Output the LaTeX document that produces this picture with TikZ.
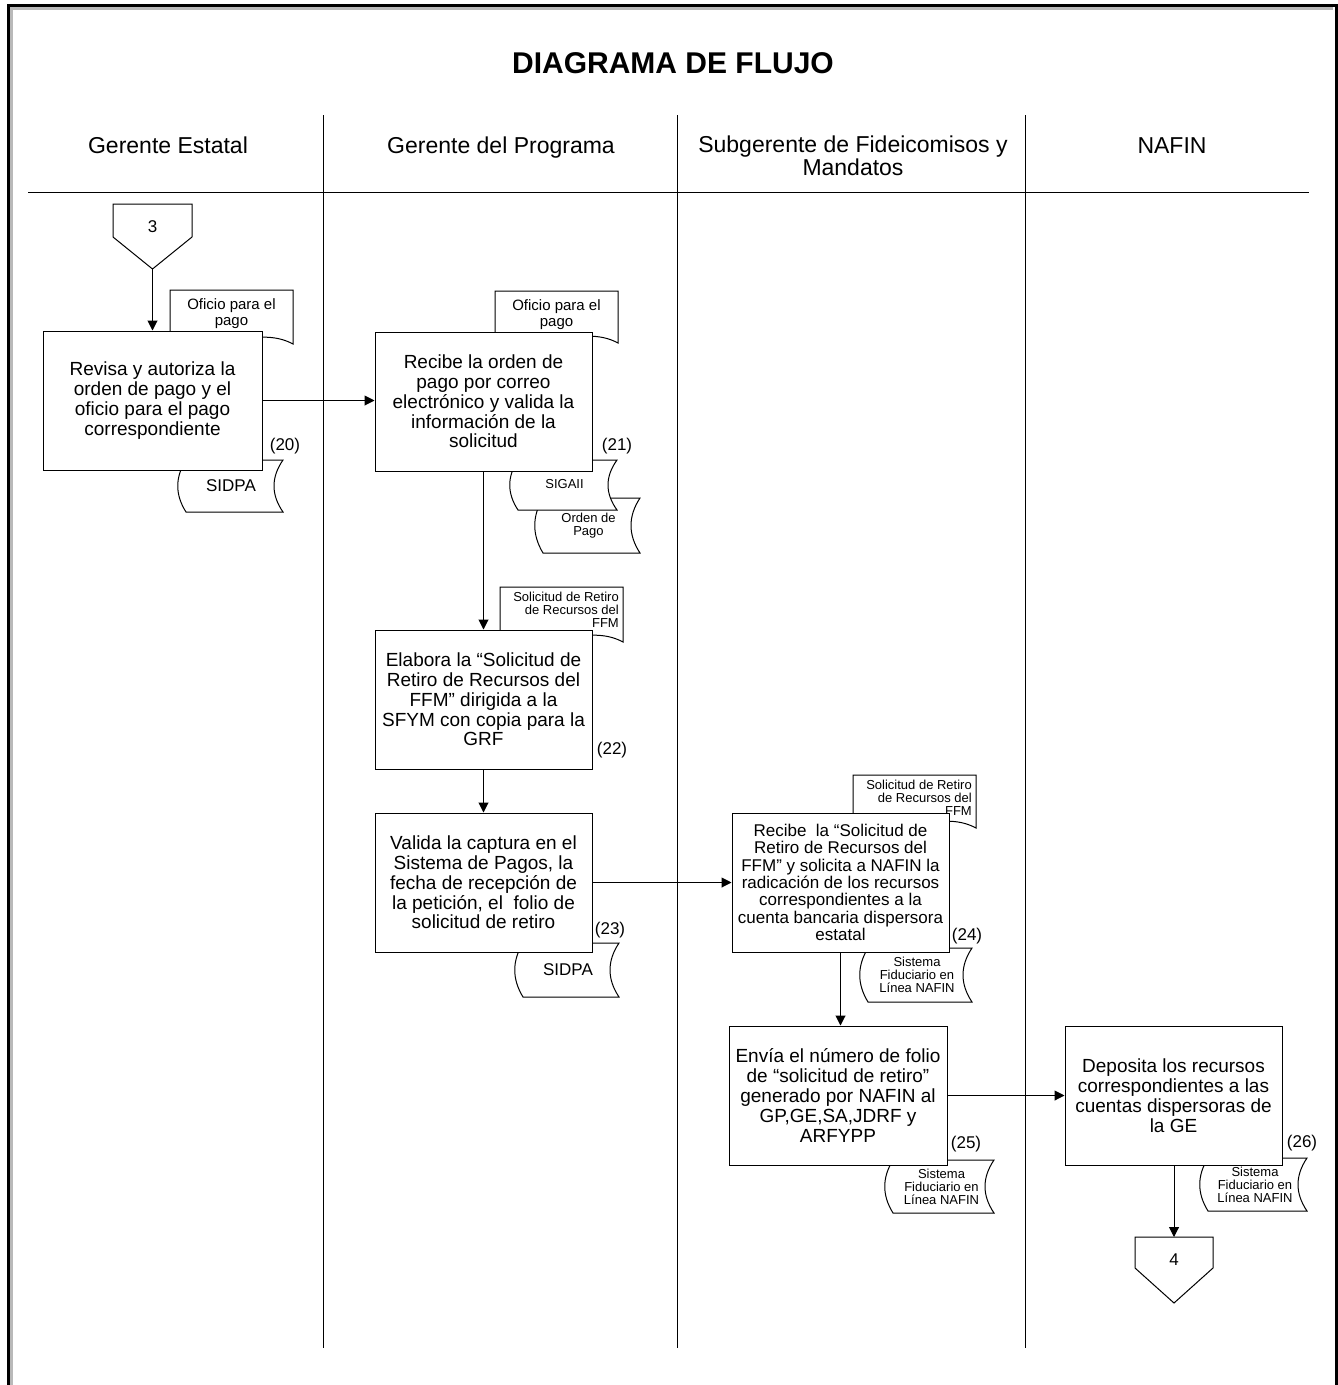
\documentclass[tikz,border=0pt]{standalone}
\usepackage{fontspec}
\setmainfont{Liberation Sans}
\usetikzlibrary{arrows.meta}

\tikzset{
	proceso/.style={draw, fill=white, line width=1pt, minimum width=217pt, minimum height=139pt, inner sep=0pt, align=center, font=\fontsize{19}{19.8}\selectfont},
	flecha/.style={-{Triangle[length=10pt,width=10pt]}, line width=1pt},
	carril/.style={font=\fontsize{23}{23}\selectfont, align=center, inner sep=0pt},
	chico/.style={font=\fontsize{13}{13}\selectfont, align=center, inner sep=0pt},
	medio/.style={font=\fontsize{15}{16}\selectfont, align=center, inner sep=0pt},
	numero/.style={font=\fontsize{17}{17}\selectfont, inner sep=0pt},
}

\newcommand{\hoja}[4]{%
	\draw[fill=white, line width=1pt] (#1,#2) -- (#3,#2) -- (#3,#4)
		.. controls ({#3-0.3*(#3-#1)},{#4-20}) and ({#1+0.35*(#3-#1)},{#4+12}) .. (#1,{#4-6}) -- cycle;
}
\newcommand{\almacen}[4]{%
	\draw[fill=white, line width=1pt] (#1,#2) -- (#3,#2)
		.. controls ({#3-12},{#2+(#4-#2)/3}) and ({#3-12},{#4-(#4-#2)/3}) .. (#3,#4)
		-- (#1,#4)
		.. controls ({#1-11},{#4-(#4-#2)/3}) and ({#1-11},{#2+(#4-#2)/3}) .. (#1,#2);
}

\begin{document}
\begin{tikzpicture}[x=1pt, y=-1pt]
	\useasboundingbox (0,0) rectangle (1338,1385);
	
	% marco
	\draw[gray!55, line width=3pt] (11,1400) -- (11,8) -- (1333,8);
	\draw[line width=3pt] (8,1400) -- (8,5) -- (1336,5) -- (1336,1400);
	
	\node[font=\bfseries\fontsize{30}{30}\selectfont, anchor=base] (titulo) at (673,73) {DIAGRAMA DE FLUJO};
	
	% carriles
	\draw[line width=1pt] (28,192) -- (1309,192);
	\foreach \x in {323,677,1025}
		\draw[line width=1pt] (\x,115) -- (\x,1348);
	\node[carril, anchor=base] (ge) at (168,153) {Gerente Estatal};
	\node[carril, anchor=base] (gp) at (501,153) {Gerente del Programa};
	\node[carril] (sfm) at (853,156) {Subgerente de Fideicomisos y\\Mandatos};
	\node[carril, anchor=base] (nafin) at (1172,153) {NAFIN};
	
	% conector 3
	\draw[line width=1pt] (113,204) -- (192,204) -- (192,237) -- (152.5,269) -- (113,237) -- cycle;
	\node[numero] (tres) at (152.5,227) {3};
	\coordinate (c3) at (152.5,269);
	
	% documentos
	\hoja{170}{290}{293}{344}
	\node[medio] (of20) at (231.5,314) {Oficio para el\\pago};
	\hoja{495}{291}{618}{343}
	\node[medio] (of21) at (556.5,314.5) {Oficio para el\\pago};
	\hoja{500}{587}{623}{642}
	\node[chico, align=right, anchor=north east] (sol22) at (619,592) {Solicitud de Retiro\\de Recursos del\\FFM};
	\hoja{853}{775}{976}{828}
	\node[chico, align=right, anchor=north east] (sol24) at (972,779.5) {Solicitud de Retiro\\de Recursos del\\FFM};
	
	% sistemas
	\almacen{186}{460}{283}{512}
	\node[numero] (sidpa20) at (231,486) {SIDPA};
	\almacen{543}{498}{640}{553}
	\node[chico] (orden21) at (588.5,525.5) {Orden de\\Pago};
	\almacen{518}{460}{617}{510}
	\node[chico] (sigaii21) at (564.5,484.5) {SIGAII};
	\almacen{523}{943}{619}{997}
	\node[numero] (sidpa23) at (568,969.5) {SIDPA};
	\almacen{868}{948}{972}{1002}
	\node[chico] (sf24) at (917,974.5) {Sistema\\Fiduciario en\\Línea NAFIN};
	\almacen{893}{1160}{994}{1213}
	\node[chico] (sf25) at (941.5,1186.5) {Sistema\\Fiduciario en\\Línea NAFIN};
	\almacen{1208}{1158}{1307}{1211}
	\node[chico] (sf26) at (1255,1184.5) {Sistema\\Fiduciario en\\Línea NAFIN};
	
	% actividades
	\node[proceso, minimum width=219pt] (b20) at (152.5,400.5) {Revisa y autoriza la\\orden de pago y el\\oficio para el pago\\correspondiente};
	\node[proceso] (b21) at (483.5,401.5) {Recibe la orden de\\pago por correo\\electrónico y valida la\\información de la\\solicitud};
	\node[proceso] (b22) at (483.5,699.5) {Elabora la “Solicitud de\\Retiro de Recursos del\\FFM” dirigida a la\\SFYM con copia para la\\GRF};
	\node[proceso] (b23) at (483.5,882.5) {Valida la captura en el\\Sistema de Pagos, la\\fecha de recepción de\\la petición, el\ \ folio de\\solicitud de retiro};
	\node[proceso, font=\fontsize{17}{17.3}\selectfont] (b24) at (840.5,882.5) {Recibe\ \ la “Solicitud de\\Retiro de Recursos del\\FFM” y solicita a NAFIN la\\radicación de los recursos\\correspondientes a la\\cuenta bancaria dispersora\\estatal};
	\node[proceso, minimum width=218pt] (b25) at (838,1095.5) {Envía el número de folio\\de “solicitud de retiro”\\generado por NAFIN al\\GP,GE,SA,JDRF y\\ARFYPP};
	\node[proceso] (b26) at (1173.5,1095.5) {Deposita los recursos\\correspondientes a las\\cuentas dispersoras de\\la GE};
	
	\node[numero] (n20) at (285,446) {(20)};
	\node[numero] (n21) at (617,446) {(21)};
	\node[numero] (n22) at (612,750) {(22)};
	\node[numero] (n23) at (610,930) {(23)};
	\node[numero] (n24) at (967,936) {(24)};
	\node[numero] (n25) at (966,1144) {(25)};
	\node[numero] (n26) at (1302,1143) {(26)};
	
	% conector 4
	\draw[line width=1pt] (1135,1237) -- (1213,1237) -- (1213,1268) -- (1174,1303) -- (1135,1268) -- cycle;
	\node[numero] (cuatro) at (1174,1260) {4};
	\coordinate (c4) at (1174,1237);
	
	% flujo
	\draw[flecha] (c3) -- (b20.north);
	\draw[flecha] (b20.east) -- (b21.west |- b20.east);
	\draw[flecha] (b21.south) -- (b22.north);
	\draw[flecha] (b22.south) -- (b23.north);
	\draw[flecha] (b23.east) -- (b24.west);
	\draw[flecha] (b24.south) -- (b24.south |- b25.north);
	\draw[flecha] (b25.east) -- (b26.west);
	\draw[flecha] (b26.south -| c4) -- (c4);
\end{tikzpicture}
\end{document}
